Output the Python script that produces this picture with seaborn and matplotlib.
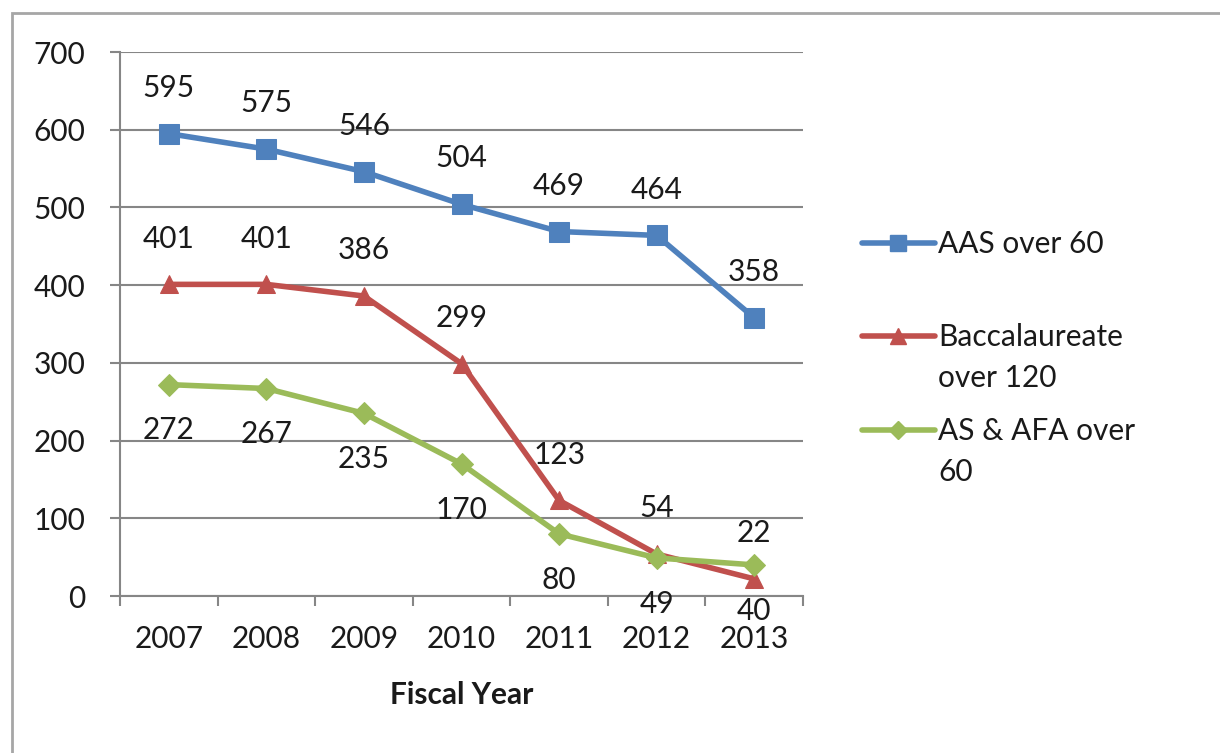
import matplotlib
matplotlib.use("Agg")
import matplotlib.pyplot as plt
import matplotlib.patches as mpatches
from matplotlib.lines import Line2D
import seaborn as sns
import pandas as pd
import numpy as np

years = ["2007", "2008", "2009", "2010", "2011", "2012", "2013"]
aas_over_60 = [595, 575, 546, 504, 469, 464, 358]
bacc_over_120 = [401, 401, 386, 299, 123, 54, 22]
as_afa_over_60 = [272, 267, 235, 170, 80, 49, 40]
series_names = ["AAS over 60", "Baccalaureate\nover 120", "AS & AFA over\n60"]
y_ticks = [0, 100, 200, 300, 400, 500, 600, 700]

colors = ["#4F81BD", "#C0504D", "#9BBB59"]
markers = ["s", "^", "D"]
msizes = [14, 13, 11]
label_dir = [1, 1, -1]
FS = 21.5
TXT = "#1a1a1a"

sns.set_theme(style="white")
plt.rcParams["font.family"] = ["Lato", "DejaVu Sans"]

W, H = 1220, 753
fig = plt.figure(figsize=(W / 100, H / 100), dpi=100)
ax = fig.add_axes([120 / W, 1 - 596 / H, (803 - 120) / W, (596 - 52) / H])

# outer frame (only top and left edges visible)
fig.add_artist(mpatches.Rectangle((12 / W, -0.1), 1.2, 1 - 13 / H + 0.1,
                                  transform=fig.transFigure, fill=False,
                                  edgecolor="#A6A6A6", linewidth=2.0))

all_series = [aas_over_60, bacc_over_120, as_afa_over_60]
frames = []
for name, vals in zip(series_names, all_series):
    frames.append(pd.DataFrame({"x": np.arange(len(years)), "value": vals, "series": name}))
df = pd.concat(frames, ignore_index=True)

for i, name in enumerate(series_names):
    sub = df[df["series"] == name]
    sns.lineplot(data=sub, x="x", y="value", ax=ax, color=colors[i], marker=markers[i],
                 markersize=msizes[i], markeredgecolor=colors[i], linewidth=4.0,
                 legend=False, zorder=3 + i)
    for xv, yv in zip(sub["x"], sub["value"]):
        ax.annotate(str(yv), (xv, yv), xytext=(0, 33 * label_dir[i]),
                    textcoords="offset points", ha="center", va="center",
                    fontsize=FS, color=TXT)

ax.set_xlim(-0.5, len(years) - 0.5)
ax.set_ylim(0, 700)
ax.set_yticks(y_ticks)
ax.set_yticklabels([str(t) for t in y_ticks])
ax.set_xticks(np.arange(len(years)))
ax.set_xticklabels(years)
ax.set_xticks(np.arange(len(years) + 1) - 0.5, minor=True)
ax.tick_params(axis="x", which="major", length=0, pad=21, labelsize=FS, labelcolor=TXT)
ax.tick_params(axis="x", which="minor", length=7, width=1.5, color="#868686", direction="out", bottom=True)
ax.tick_params(axis="y", which="major", length=7, width=1.5, color="#868686", direction="out",
               left=True, pad=18, labelsize=FS, labelcolor=TXT)
ax.yaxis.grid(True, color="#868686", linewidth=1.5)
ax.set_axisbelow(True)
for s in ["top", "right"]:
    ax.spines[s].set_visible(False)
for s in ["left", "bottom"]:
    ax.spines[s].set_color("#868686")
    ax.spines[s].set_linewidth(1.5)
ax.set_xlabel("Fiscal Year", fontsize=FS, fontweight="bold", labelpad=20, color=TXT)
ax.set_ylabel("")

# legend (handle aligned with the first line of each label, as in the original)
leg_rows = [243, 336, 430]
for i, name in enumerate(series_names):
    yf = 1 - leg_rows[i] / H
    fig.add_artist(Line2D([862 / W, 935 / W], [yf, yf], transform=fig.transFigure,
                          color=colors[i], linewidth=4.0))
    fig.add_artist(Line2D([898 / W], [yf], transform=fig.transFigure, color=colors[i],
                          marker=markers[i], markersize=msizes[i] * 0.85, linestyle="none"))
    fig.text(938 / W, 1 - (leg_rows[i] - 13) / H, name, ha="left", va="top",
             fontsize=FS, color=TXT, linespacing=1.55)

fig.savefig("out.png", dpi=100)
